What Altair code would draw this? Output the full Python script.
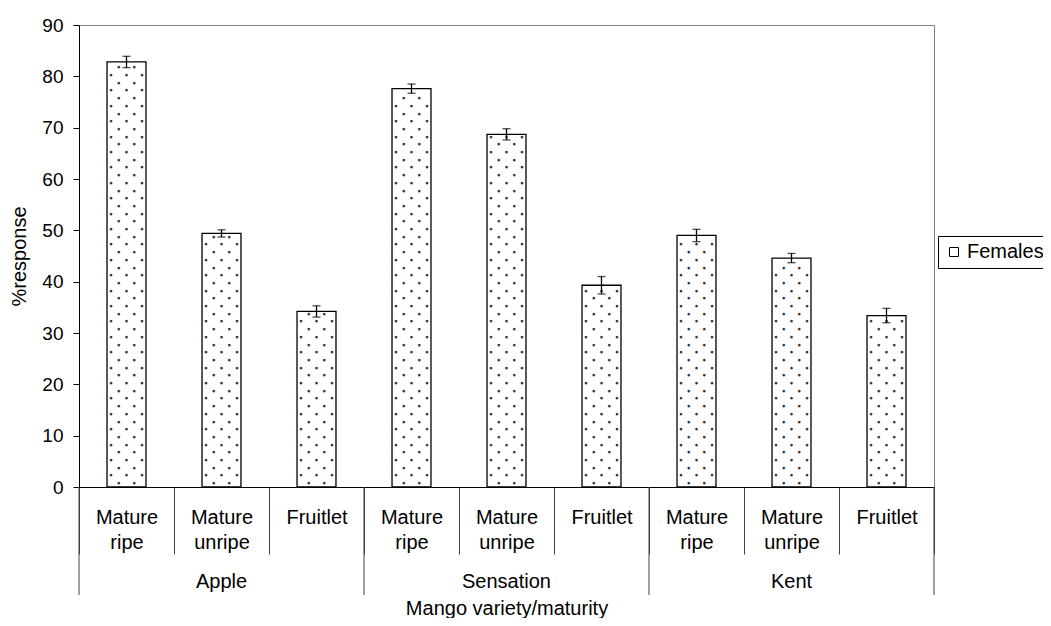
import altair as alt
import pandas as pd

# ---- data ----
varieties = ["Apple", "Sensation", "Kent"]
maturities = ["Mature ripe", "Mature unripe", "Fruitlet"]
response = [82.8, 49.4, 34.2, 77.6, 68.7, 39.3, 49.0, 44.6, 33.4]
errors = [1.1, 0.7, 1.1, 0.9, 1.1, 1.7, 1.2, 0.9, 1.4]
series_name = "Females"
y_ticks = [0, 10, 20, 30, 40, 50, 60, 70, 80, 90]

FONT = "Liberation Sans"

keys = [f"{v}|{m}" for v in varieties for m in maturities]
bars = pd.DataFrame({
    "key": keys,
    "variety": [v for v in varieties for _ in maturities],
    "value": response,
    "lo": [r - e for r, e in zip(response, errors)],
    "hi": [r + e for r, e in zip(response, errors)],
    "series": series_name,
})

# dotted fill pattern rows derived from bar values
ROW = 1.5
dot_rows = []
for k, val in zip(keys, response):
    r = 0
    while 0.75 + ROW * r < val - 0.4:
        dot_rows.append({"key": k, "y": 0.75 + ROW * r, "parity": r % 2})
        r += 1
dots = pd.DataFrame(dot_rows)

first_keys = pd.DataFrame({"key": [f"{v}|{maturities[0]}" for v in varieties]})
last_key = pd.DataFrame({"key": [keys[-1]]})
mid_keys = pd.DataFrame({"key": [f"{v}|{maturities[1]}" for v in varieties], "label": varieties})

xscale = alt.Scale(paddingInner=0, paddingOuter=0)
xaxis = alt.Axis(
    title="Mango variety/maturity",
    titleFontSize=20, titleFontWeight="normal", titleColor="black",
    titleX=427.5, titleY=127, titleBaseline="alphabetic", titleAnchor="middle",
    labelExpr="isString(datum.value) && indexof(datum.value, '|') >= 0 ? split(split(datum.value, '|')[1], ' ') : ''",
    labelAngle=0, labelAlign="center", labelBaseline="alphabetic",
    labelFontSize=20, labelLineHeight=25, labelColor="black",
    labelPadding=-31, labelOverlap=False,
    tickBand="extent", tickSize=67, tickColor="#404040", tickWidth=1,
    domainColor="black", domainWidth=1, grid=False,
)


def X(**kw):
    return alt.X("key:N", sort=keys, scale=xscale, axis=xaxis, **kw)


yscale = alt.Scale(domain=[0, 90], nice=False, zero=True)
yaxis = alt.Axis(
    title="%response", titleFontSize=20, titleFontWeight="normal", titleColor="black",
    titleAngle=270, titleX=-60, titleY=231, titleBaseline="middle", titleAlign="center",
    values=y_ticks, labelFontSize=19, labelColor="black", labelPadding=10,
    tickSize=6, tickColor="black", domainColor="black", grid=False,
)

base_bars = alt.Chart(bars)

bar_layer = base_bars.mark_bar(
    stroke="black", strokeWidth=1.3, width=alt.RelativeBandSize(0.41)
).encode(
    x=X(),
    y=alt.Y("value:Q", scale=yscale, axis=yaxis),
    color=alt.Color(
        "series:N",
        scale=alt.Scale(range=["white"]),
        legend=alt.Legend(
            title=None, orient="none", legendX=859, legendY=211,
            strokeColor="black", fillColor="white", padding=6,
            labelFontSize=20, labelColor="black", labelFont=FONT,
            symbolType="square", symbolSize=81, symbolFillColor="white",
            symbolStrokeColor="black", symbolStrokeWidth=1, labelOffset=3,
        ),
    ),
)

dot_layers = []
for dx, par in [(-15.6, 1), (-7.8, 0), (0, 1), (7.8, 0), (15.6, 1)]:
    dot_layers.append(
        alt.Chart(dots).transform_filter(alt.datum.parity == par)
        .mark_text(text="●", font="DejaVu Sans", fontSize=3.4, color="#333333",
                   dx=dx, baseline="middle", align="center")
        .encode(x=X(), y=alt.Y("y:Q", scale=yscale, axis=yaxis))
    )

err_rule = base_bars.mark_rule(color="black", strokeWidth=1.3).encode(
    x=X(), y=alt.Y("lo:Q", scale=yscale, axis=yaxis), y2="hi:Q"
)
cap_lo = base_bars.mark_tick(color="black", size=8, thickness=1.3).encode(
    x=X(), y=alt.Y("lo:Q", scale=yscale, axis=yaxis)
)
cap_hi = base_bars.mark_tick(color="black", size=8, thickness=1.3).encode(
    x=X(), y=alt.Y("hi:Q", scale=yscale, axis=yaxis)
)

sep_first = alt.Chart(first_keys).mark_rule(color="#404040", strokeWidth=1).encode(
    x=X(bandPosition=0), y=alt.value(462), y2=alt.value(570)
)
sep_last = alt.Chart(last_key).mark_rule(color="#404040", strokeWidth=1).encode(
    x=X(bandPosition=1), y=alt.value(462), y2=alt.value(570)
)
var_text = alt.Chart(mid_keys).mark_text(
    fontSize=20, font=FONT, color="black", baseline="alphabetic", align="center"
).encode(x=X(), y=alt.value(563), text="label:N")

chart = alt.layer(
    bar_layer, *dot_layers, err_rule, cap_lo, cap_hi, sep_first, sep_last, var_text
).properties(
    width=855, height=462,
    autosize=alt.AutoSizeParams(type="none"),
    padding={"left": 71, "top": 17, "right": 109, "bottom": 131},
).configure(font=FONT).configure_view(stroke="#808080", strokeWidth=1)

chart.save("out.html", embed_options={"renderer": "svg", "actions": False})
